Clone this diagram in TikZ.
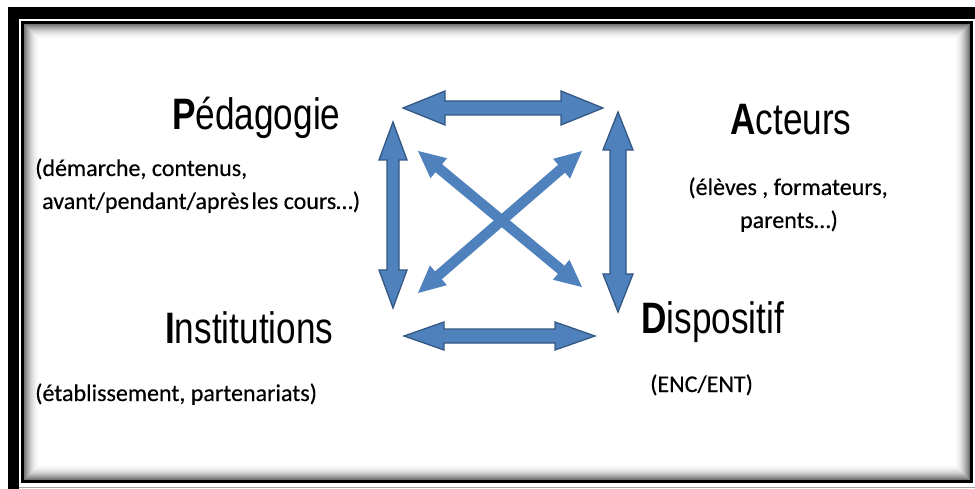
\documentclass[tikz,border=0pt]{standalone}
\usepackage{fontspec}
\setmainfont{Liberation Sans}
\newfontfamily\calib[FakeBold=0.35]{Carlito}
\usetikzlibrary{calc}
\definecolor{arrfill}{RGB}{79,129,189}
\definecolor{arrline}{RGB}{52,88,132}
\newcommand\dblarrow[6][]{%
  \path ($(#2)!#4!(#3)$) coordinate (h1) ($(#3)!#4!(#2)$) coordinate (h2);
  \draw[#1] (#2) -- ($(h1)!#5!90:(#3)$) -- ($(h1)!#6!90:(#3)$) -- ($(h2)!#6!-90:(#2)$)
    -- ($(h2)!#5!-90:(#2)$) -- (#3) -- ($(h2)!#5!90:(#2)$) -- ($(h2)!#6!90:(#2)$)
    -- ($(h1)!#6!-90:(#3)$) -- ($(h1)!#5!-90:(#3)$) -- cycle;
}
\begin{document}
\begin{tikzpicture}[x=1pt,y=-1pt,
  head/.style={anchor=base west, inner sep=0, font=\fontsize{44}{44}\selectfont},
  sub/.style={inner sep=0, font=\calib\fontsize{24}{24}\selectfont},
  barrow/.style={fill=arrfill, draw=arrline, line width=1.3pt, line join=miter},
  darrow/.style={fill=arrfill, draw=none}]
\useasboundingbox (0,0) rectangle (975,489);
\fill[white] (0,0) rectangle (975,489);
% frame
\fill[black] (8,7) rectangle (975,19);
\fill[black] (8,7) rectangle (19,489);
\draw[gray!70, line width=1.5] (19,487.5) -- (975,487.5);
\fill[white] (24,24) rectangle (970,480);
\foreach \i in {0,...,15}{%
  \pgfmathsetmacro\c{55*(1-\i/16)^2}
  \draw[black!\c, line width=1.1] (24.5+\i,24.5+\i) rectangle (969.5-\i,479.5-\i);
}
\draw[black, line width=3] (22.5,22.5) rectangle (971.5,481);
% texts
\node[head] (ped) at (172,130) {\scalebox{0.8}[1]{\textbf{P}édagogie}};
\node[sub, anchor=base west] (ped1) at (35,176) {(démarche, contenus,};
\node[sub, anchor=base west] (ped2) at (42,209) {avant/pendant/après\hspace{2.5pt}les cours…)};
\node[head] (act) at (730,135) {\scalebox{0.8}[1]{\textbf{A}cteurs}};
\node[sub, anchor=base] (act1) at (788,195) {(élèves , formateurs,};
\node[sub, anchor=base] (act2) at (789,228) {parents…)};
\node[head] (ins) at (165,343) {\scalebox{0.8}[1]{\textbf{I}nstitutions}};
\node[sub, anchor=base west] (ins1) at (35,401) {(établissement, partenariats)};
\node[head] (dis) at (641,333) {\scalebox{0.8}[1]{\textbf{D}ispositif}};
\node[sub, anchor=base west] (dis1) at (650,392) {(ENC/ENT)};
% arrow ends
\coordinate (tA) at (403,108); \coordinate (tB) at (603,108);
\coordinate (lA) at (393,122); \coordinate (lB) at (393,308);
\coordinate (rA) at (618,112); \coordinate (rB) at (618,312);
\coordinate (bA) at (404,336); \coordinate (bB) at (595,336);
\coordinate (d1A) at (418,151); \coordinate (d1B) at (582,287);
\coordinate (d2A) at (582,151); \coordinate (d2B) at (418,293);
% arrows
\dblarrow[darrow]{d1A}{d1B}{27pt}{13pt}{5.2pt}
\dblarrow[darrow]{d2A}{d2B}{27pt}{13pt}{5.2pt}
\dblarrow[barrow]{tA}{tB}{42pt}{17pt}{7pt}
\dblarrow[barrow]{lA}{lB}{38pt}{14pt}{6pt}
\dblarrow[barrow]{rA}{rB}{38pt}{15pt}{8pt}
\dblarrow[barrow]{bA}{bB}{40pt}{14pt}{7pt}
\end{tikzpicture}
\end{document}
